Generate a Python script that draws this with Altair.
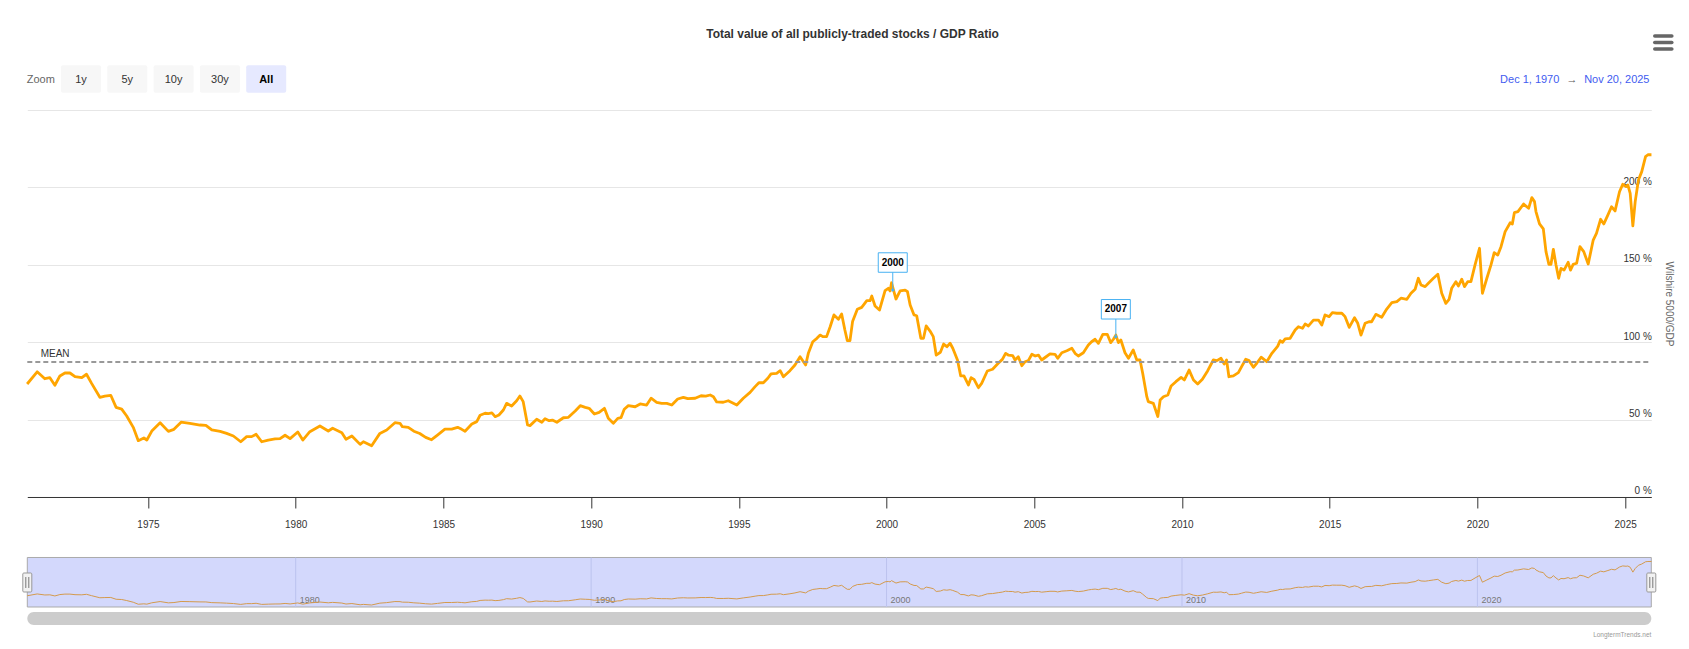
import altair as alt
import pandas as pd

# ---------------- data ----------------
title_text = "Total value of all publicly-traded stocks / GDP Ratio"
axis_title = "Wilshire 5000/GDP"
credits_text = "LongtermTrends.net"
range_from = "Dec 1, 1970"
range_to = "Nov 20, 2025"
zoom_buttons = ["1y", "5y", "10y", "30y", "All"]

years = [
    1970.91, 1971.25, 1971.51, 1971.68, 1971.85, 1972.02, 1972.19, 1972.36, 1972.53, 1972.76,
    1972.92, 1973.09, 1973.37, 1973.54, 1973.74, 1973.92, 1974.11, 1974.28, 1974.50, 1974.67,
    1974.86, 1974.96, 1975.13, 1975.41, 1975.69, 1975.88, 1976.12, 1976.42, 1976.76, 1976.96,
    1977.16, 1977.44, 1977.66, 1977.89, 1978.14, 1978.34, 1978.51, 1978.66, 1978.85, 1979.07,
    1979.30, 1979.47, 1979.64, 1979.81, 1980.07, 1980.24, 1980.48, 1980.82, 1981.10, 1981.25,
    1981.56, 1981.70, 1981.90, 1982.18, 1982.29, 1982.57, 1982.85, 1983.08, 1983.36, 1983.53,
    1983.61, 1983.81, 1984.00, 1984.20, 1984.40, 1984.60, 1984.80, 1985.05, 1985.28, 1985.48,
    1985.62, 1985.73, 1985.96, 1986.13, 1986.24, 1986.41, 1986.52, 1986.64, 1986.75, 1986.88,
    1987.03, 1987.14, 1987.31, 1987.48, 1987.59, 1987.70, 1987.85, 1987.93, 1988.16, 1988.33,
    1988.44, 1988.58, 1988.69, 1988.84, 1989.06, 1989.23, 1989.46, 1989.63, 1989.80, 1989.93,
    1990.11, 1990.27, 1990.45, 1990.58, 1990.75, 1990.90, 1991.01, 1991.12, 1991.26, 1991.49,
    1991.66, 1991.88, 1992.03, 1992.22, 1992.39, 1992.56, 1992.73, 1992.93, 1993.12, 1993.27,
    1993.52, 1993.72, 1993.88, 1994.03, 1994.14, 1994.25, 1994.47, 1994.64, 1994.93, 1995.15,
    1995.38, 1995.55, 1995.68, 1995.83, 1995.98, 1996.09, 1996.28, 1996.40, 1996.51, 1996.73,
    1996.90, 1997.07, 1997.26, 1997.35, 1997.50, 1997.64, 1997.75, 1997.84, 1997.97, 1998.09,
    1998.22, 1998.37, 1998.48, 1998.59, 1998.67, 1998.76, 1998.85, 1999.01, 1999.16, 1999.33,
    1999.44, 1999.50, 1999.61, 1999.76, 1999.95, 2000.06, 2000.12, 2000.17, 2000.32, 2000.46,
    2000.63, 2000.71, 2000.80, 2000.93, 2001.02, 2001.16, 2001.25, 2001.34, 2001.47, 2001.58,
    2001.68, 2001.82, 2001.93, 2002.04, 2002.15, 2002.24, 2002.40, 2002.51, 2002.62, 2002.77,
    2002.86, 2002.96, 2003.11, 2003.22, 2003.41, 2003.59, 2003.78, 2003.92, 2004.03, 2004.12,
    2004.27, 2004.35, 2004.46, 2004.58, 2004.69, 2004.80, 2004.92, 2005.03, 2005.14, 2005.25,
    2005.40, 2005.53, 2005.70, 2005.79, 2005.93, 2006.10, 2006.27, 2006.38, 2006.49, 2006.66,
    2006.83, 2006.94, 2007.06, 2007.17, 2007.32, 2007.47, 2007.59, 2007.68, 2007.76, 2007.85,
    2007.93, 2008.07, 2008.19, 2008.35, 2008.47, 2008.58, 2008.67, 2008.75, 2008.81, 2008.86,
    2009.03, 2009.18, 2009.26, 2009.37, 2009.52, 2009.63, 2009.79, 2009.97, 2010.08, 2010.24,
    2010.39, 2010.53, 2010.69, 2010.87, 2011.06, 2011.18, 2011.32, 2011.43, 2011.51, 2011.59,
    2011.74, 2011.91, 2012.02, 2012.16, 2012.27, 2012.42, 2012.53, 2012.68, 2012.87, 2013.04,
    2013.24, 2013.32, 2013.40, 2013.49, 2013.66, 2013.83, 2013.94, 2014.08, 2014.17, 2014.28,
    2014.45, 2014.62, 2014.73, 2014.84, 2014.98, 2015.09, 2015.24, 2015.41, 2015.52, 2015.66,
    2015.84, 2015.95, 2016.06, 2016.20, 2016.33, 2016.42, 2016.56, 2016.76, 2016.93, 2017.10,
    2017.27, 2017.41, 2017.61, 2017.75, 2017.89, 2018.00, 2018.09, 2018.23, 2018.34, 2018.51,
    2018.66, 2018.79, 2018.93, 2019.04, 2019.13, 2019.27, 2019.36, 2019.47, 2019.56, 2019.67,
    2019.78, 2019.92, 2020.07, 2020.17, 2020.32, 2020.46, 2020.57, 2020.69, 2020.80, 2020.94,
    2021.11, 2021.18, 2021.25, 2021.37, 2021.56, 2021.73, 2021.84, 2021.93, 2021.98, 2022.10,
    2022.23, 2022.32, 2022.42, 2022.49, 2022.57, 2022.66, 2022.75, 2022.83, 2022.93, 2023.07,
    2023.15, 2023.24, 2023.36, 2023.47, 2023.60, 2023.75, 2023.92, 2024.03, 2024.17, 2024.28,
    2024.42, 2024.54, 2024.66, 2024.81, 2024.92, 2025.03, 2025.09, 2025.17, 2025.26, 2025.34,
    2025.45, 2025.56, 2025.69, 2025.77, 2025.89,
]
values = [
    73.0, 80.9, 76.4, 77.1, 72.2, 78.2, 80.1, 80.1, 77.7, 77.1,
    79.3, 73.4, 64.4, 65.2, 65.7, 57.9, 56.8, 52.3, 45.0, 36.4,
    38.1, 36.8, 42.6, 48.0, 42.4, 43.7, 48.3, 47.6, 46.5, 46.3,
    43.3, 42.4, 41.1, 39.4, 35.7, 39.0, 39.0, 40.5, 35.7, 36.8,
    37.5, 37.7, 39.9, 37.7, 42.0, 36.8, 42.2, 45.9, 42.6, 44.4,
    41.5, 37.3, 39.4, 34.0, 35.7, 33.1, 41.1, 43.3, 48.0, 47.6,
    45.4, 45.0, 42.5, 41.0, 38.5, 37.0, 40.0, 43.9, 43.9, 45.0,
    43.7, 42.5, 47.2, 48.7, 52.8, 54.1, 53.8, 54.3, 51.9, 53.0,
    56.2, 60.5, 58.8, 62.2, 65.2, 61.6, 46.5, 46.1, 50.2, 48.3,
    50.6, 49.3, 49.7, 48.3, 51.2, 51.5, 55.6, 59.0, 57.9, 57.3,
    53.6, 54.7, 57.3, 50.8, 47.6, 50.8, 51.2, 56.7, 59.0, 58.3,
    60.1, 59.4, 63.8, 61.2, 60.5, 60.5, 59.4, 63.3, 64.4, 63.5,
    63.8, 65.4, 65.2, 65.9, 64.8, 61.4, 61.2, 62.2, 59.4, 63.8,
    67.6, 71.3, 73.8, 73.8, 76.7, 79.5, 79.9, 81.6, 77.7, 81.6,
    85.3, 90.6, 85.3, 92.8, 100.3, 102.5, 104.6, 103.6, 103.6, 110.0,
    117.6, 114.8, 118.2, 107.9, 101.0, 101.0, 113.3, 121.3, 122.5, 126.8,
    126.8, 129.8, 123.4, 120.8, 133.3, 134.8, 133.1, 138.4, 127.9, 133.1,
    133.7, 132.6, 124.0, 117.6, 117.1, 102.5, 102.5, 110.5, 107.2, 103.6,
    91.7, 93.5, 98.8, 97.1, 99.3, 96.1, 88.5, 78.2, 78.2, 72.4,
    77.1, 76.0, 70.6, 73.4, 81.4, 82.5, 86.4, 88.9, 92.8, 91.7,
    91.3, 88.5, 90.6, 84.8, 87.4, 88.1, 92.2, 91.1, 91.7, 88.5,
    90.6, 92.4, 92.2, 89.6, 93.2, 94.5, 96.1, 92.8, 91.1, 93.2,
    98.2, 100.3, 101.9, 99.3, 105.1, 105.1, 99.7, 101.9, 104.6, 99.7,
    101.4, 93.2, 89.6, 95.0, 88.5, 88.5, 79.9, 71.3, 64.8, 61.6,
    60.5, 52.0, 62.7, 64.8, 65.9, 71.7, 74.5, 77.3, 75.6, 82.0,
    75.6, 73.0, 76.0, 81.6, 88.5, 88.1, 89.6, 85.9, 88.5, 77.7,
    78.2, 80.3, 84.2, 89.0, 88.1, 83.8, 86.4, 90.3, 87.4, 92.8,
    97.5, 101.0, 99.9, 102.1, 102.5, 107.9, 110.0, 109.0, 111.8, 110.5,
    114.3, 114.3, 111.1, 117.6, 116.5, 119.1, 118.7, 118.7, 116.5, 109.6,
    115.8, 112.2, 104.6, 112.2, 113.2, 113.2, 118.0, 116.1, 121.4, 125.5,
    126.2, 128.4, 127.7, 131.6, 134.2, 141.3, 137.0, 135.9, 138.1, 141.3,
    143.9, 131.6, 125.1, 127.7, 134.8, 139.1, 136.3, 140.7, 135.9, 139.1,
    139.1, 149.9, 160.7, 131.6, 141.3, 149.9, 157.8, 156.3, 161.7, 171.4,
    177.2, 176.4, 183.7, 184.4, 189.3, 186.5, 193.4, 190.8, 184.4, 176.4,
    173.2, 158.5, 150.3, 150.3, 160.0, 149.9, 141.3, 147.7, 146.6, 151.6,
    146.6, 150.3, 151.0, 161.7, 158.5, 150.5, 166.0, 170.3, 179.4, 176.4,
    182.2, 187.5, 184.8, 197.2, 202.0, 200.5, 201.6, 196.2, 175.1, 190.8,
    204.8, 210.2, 219.9, 221.1, 221.1,
]
mean_value = [87.2]
flag_labels = ["2000", "2007"]
flag_years = [2000.21, 2007.76]
flag_values = [133.7, 103.5]
x_tick_years = [1975, 1980, 1985, 1990, 1995, 2000, 2005, 2010, 2015, 2020, 2025]
nav_label_years = [1980, 1990, 2000, 2010, 2020]
y_ticks = [0, 50, 100, 150, 200, 250]

# ---------------- layout constants ----------------
FONT = "Segoe UI, Liberation Sans, Arial, sans-serif"
W = 1624            # plot width (shared by main plot and navigator)
H = 515             # total layered height (main plot + navigator + scrollbar)
MAIN_H = 387        # main plot height
NAV_TOP, NAV_BOT = 447.5, 497
ORANGE = "#ffa500"
FLAG = "#47b1f2"


def to_date(y):
    yr = int(y)
    return pd.Timestamp(year=yr, month=1, day=1) + pd.Timedelta(days=round((y - yr) * 365.25))


df = pd.DataFrame({"date": [to_date(y) for y in years], "value": values})
mean_df = pd.DataFrame({"value": mean_value, "label": ["MEAN"]})
flag_df = pd.DataFrame({"date": [to_date(y) for y in flag_years],
                        "value": flag_values, "label": flag_labels})
nav_df = pd.DataFrame({"date": [pd.Timestamp(year=y, month=1, day=1) for y in nav_label_years],
                       "label": [str(y) for y in nav_label_years]})

x_scale = alt.Scale(domain=[alt.DateTime(year=1970, month=12, date=1),
                            alt.DateTime(year=2025, month=11, date=20)], nice=False)
y_scale = alt.Scale(domain=[0, 250], range=[MAIN_H, 0], nice=False, zero=False)
nav_scale = alt.Scale(domain=[min(values), max(values)], range=[NAV_BOT - 2, NAV_TOP + 4],
                      nice=False, zero=False)

x_axis = alt.Axis(
    values=[alt.DateTime(year=y, month=1, date=1) for y in x_tick_years],
    format="%Y", title=None, grid=False, orient="bottom", offset=-(H - MAIN_H),
    domainColor="#333333", tickColor="#333333", tickSize=11, labelPadding=12,
    labelFontSize=10, labelColor="#333333", labelFlush=False,
)
y_axis = alt.Axis(
    orient="right", values=y_ticks, title=axis_title, grid=True, gridColor="#e6e6e6",
    domain=False, ticks=False, tickSize=0, labelPadding=0, labelAlign="right",
    labelBaseline="bottom", labelOffset=-1, labelFontSize=10, labelColor="#333333",
    labelFlush=False, labelOverlap=False,
    labelExpr="datum.value >= 250 ? '' : datum.value + ' %'",
    titleFontSize=10, titleFontWeight="normal", titleColor="#666666",
    titleX=17, titleY=MAIN_H / 2, titleAngle=90, titleBaseline="middle", titleAlign="center",
)


def X(field="date:T"):
    return alt.X(field, scale=x_scale, axis=x_axis)


def Y(field="value:Q"):
    return alt.Y(field, scale=y_scale, axis=y_axis)


line = alt.Chart(df).mark_line(color=ORANGE, strokeWidth=2.8, strokeJoin="round").encode(
    x=X(), y=Y())
mean_rule = alt.Chart(mean_df).mark_rule(color="#999999", strokeWidth=2, strokeDash=[5, 3]).encode(
    x=alt.value(0), x2=alt.value(W), y=Y())
mean_text = alt.Chart(mean_df).mark_text(align="left", baseline="middle", fontSize=10,
                                         color="#333333", dy=-8).encode(
    x=alt.value(13.4), y=Y(), text="label:N")
flag_rule = alt.Chart(flag_df).mark_rule(color=FLAG, strokeWidth=1, y2Offset=-18).encode(
    x=X(), y=Y(), y2=alt.Y2("value:Q"))
flag_box = alt.Chart(flag_df).mark_point(
    shape="M-1,-0.672L1,-0.672L1,0.672L-1,0.672Z", size=841, filled=True,
    fill="white", stroke=FLAG, strokeWidth=1, opacity=1, fillOpacity=1, yOffset=-27.5,
).encode(x=X(), y=Y())
flag_text = alt.Chart(flag_df).mark_text(fontSize=10, fontWeight="bold", color="#000000",
                                         baseline="middle", dy=-27.5).encode(
    x=X(), y=Y(), text="label:N")
flag_dot = alt.Chart(flag_df).mark_point(filled=True, size=10, color=FLAG, opacity=1).encode(
    x=X(), y=Y())
main = alt.layer(line, mean_rule, mean_text, flag_rule, flag_box, flag_text, flag_dot)

# ---------------- decorations ----------------
one = pd.DataFrame({"k": [0]})


def box(x1, x2, y1, y2, **kw):
    return alt.Chart(one).mark_rect(**kw).encode(
        x=alt.value(x1), x2=alt.value(x2), y=alt.value(y1), y2=alt.value(y2))


def label(text, x, y, **kw):
    kw.setdefault("baseline", "middle")
    return alt.Chart(one).mark_text(text=text, **kw).encode(x=alt.value(x), y=alt.value(y))


def hline(x1, x2, y, **kw):
    return alt.Chart(one).mark_rule(**kw).encode(x=alt.value(x1), x2=alt.value(x2), y=alt.value(y))


def vline(x, y1, y2, **kw):
    return alt.Chart(one).mark_rule(**kw).encode(x=alt.value(x), y=alt.value(y1), y2=alt.value(y2))


deco = [label(title_text, 825.2, -75.7, fontSize=12, fontWeight="bold", color="#333333", align="center")]
deco.append(label("Zoom", -0.6, -30.5, fontSize=11, color="#666666", align="left"))
for i, b in enumerate(zoom_buttons):
    x0 = 33.7 + i * 46.3
    sel = b == "All"
    deco.append(box(x0, x0 + 40, -44.7, -17.3, fill="#e6e9ff" if sel else "#f7f7f7", cornerRadius=2))
    deco.append(label(b, x0 + 20, -30.5, fontSize=11, align="center",
                      fontWeight="bold" if sel else "normal", color="#000000" if sel else "#333333"))
deco.append(label(range_from, 1502.4, -30.3, fontSize=11, color="#3f5cf0", align="center"))
deco.append(label("\u2192", 1544.7, -30.3, fontSize=11, color="#555555", align="center"))
deco.append(label(range_to, 1589.5, -30.3, fontSize=11, color="#3f5cf0", align="center"))
for yy in [-74.0, -67.5, -61.0]:
    deco.append(hline(1627.5, 1644.5, yy, color="#666666", strokeWidth=3.6, strokeCap="round"))

# navigator
nav = [box(0, W, NAV_TOP, NAV_BOT, fill="#d3d8fc", stroke="#aaaaaa", strokeWidth=1)]
nav.append(alt.Chart(nav_df).mark_rule(color="#bcc3ee", strokeWidth=1).encode(
    x=X(), y=alt.value(NAV_TOP), y2=alt.value(NAV_BOT)))
nav.append(alt.Chart(nav_df).mark_text(align="left", baseline="middle", fontSize=9,
                                       color="#777777", dx=4).encode(
    x=X(), y=alt.value(NAV_BOT - 7), text="label:N"))
nav_line = alt.Chart(df).mark_line(color="#d49a4c", strokeWidth=1).encode(
    x=X(), y=alt.Y("value:Q", scale=nav_scale, axis=None))
handles = []
for cx in [0, W]:
    handles.append(box(cx - 4.5, cx + 4.5, 463, 482, fill="#f2f2f2", stroke="#999999",
                       strokeWidth=1, cornerRadius=1))
    handles.append(vline(cx - 1.5, 467, 478, color="#777777", strokeWidth=1))
    handles.append(vline(cx + 1.5, 467, 478, color="#777777", strokeWidth=1))
scroll = [box(0, W, 502, 515, fill="#cccccc", cornerRadius=6.5)]
credits = [label(credits_text, W, 525, fontSize=6.5, color="#999999", align="right")]

chart = alt.layer(*nav, nav_line, main, *handles, *scroll, *deco, *credits).resolve_scale(y="independent")
chart = chart.properties(
    width=W, height=H,
    autosize=alt.AutoSizeParams(type="none"),
    padding={"left": 19.3, "top": 102, "right": 28, "bottom": 15},
).configure(font=FONT).configure_view(stroke=None)

chart.save("out.html", embed_options={"renderer": "svg", "actions": False})
